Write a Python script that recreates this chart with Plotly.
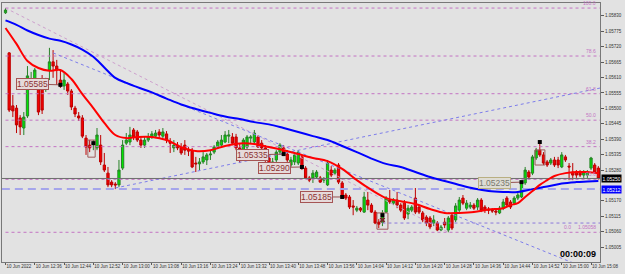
import plotly.graph_objects as go
import pandas as pd

SCALE = 100000.0
bar_times = pd.date_range("2022-06-10 12:28", periods=163, freq="min")
bars = list(range(163))

open_pts = [105841,105698,105509,105501,105466,105430,105473,105584,105584,105573,
105601,105573,105637,105666,105651,105601,105580,105587,105562,105501,
105473,105466,105394,105369,105373,105359,105369,105298,105269,105237,
105230,105227,105287,105376,105380,105423,105416,105387,105369,105387,
105398,105401,105416,105401,105409,105380,105359,105369,105362,105369,
105351,105351,105305,105302,105309,105316,105334,105344,105362,105369,
105380,105401,105398,105398,105359,105351,105362,105394,105380,105398,
105376,105359,105323,105280,105316,105344,105359,105337,105298,105309,
105305,105327,105287,105252,105252,105255,105252,105244,105227,105280,
105269,105298,105234,105191,105184,105152,105137,105144,105130,105173,
105155,105130,105094,105094,105130,105173,105162,105173,105155,105162,
105123,105137,105180,105148,105127,105112,105109,105091,105091,105066,
105094,105066,105119,105102,105137,105180,105144,105148,105155,105148,
105173,105148,105141,105137,105134,105127,105144,105180,105166,105162,
105180,105184,105234,105273,105269,105323,105351,105334,105309,105305,
105316,105316,105291,105327,105294,105273,105273,105273,105262,105262,
105287,105298,105287]
high_pts = [105858,105701,105548,105512,105476,105487,105651,105630,105644,105584,
105619,105609,105716,105708,105673,105637,105626,105594,105569,105509,
105487,105476,105405,105387,105387,105430,105405,105341,105291,105244,
105237,105316,105387,105412,105434,105430,105423,105398,105398,105412,
105419,105423,105426,105430,105419,105394,105387,105380,105376,105387,
105362,105359,105327,105323,105344,105341,105351,105369,105387,105405,
105419,105423,105412,105409,105376,105394,105405,105405,105423,105405,
105387,105369,105334,105323,105351,105376,105369,105351,105327,105344,
105351,105334,105294,105259,105280,105280,105259,105255,105316,105294,
105287,105305,105241,105198,105191,105173,105152,105148,105202,105202,
105162,105137,105105,105137,105187,105209,105180,105202,105162,105173,
105155,105155,105216,105155,105134,105119,105116,105119,105098,105084,
105109,105116,105127,105162,105184,105191,105173,105166,105162,105180,
105180,105155,105148,105144,105144,105152,105177,105187,105173,105187,
105198,105241,105291,105280,105334,105359,105380,105344,105316,105323,
105327,105327,105344,105334,105305,105305,105280,105280,105280,105280,
105327,105305,105294]
low_pts = [105837,105487,105469,105412,105405,105405,105466,105566,105573,105476,
105480,105559,105601,105609,105584,105573,105566,105548,105494,105469,
105455,105394,105334,105344,105351,105351,105298,105273,105219,105219,
105212,105219,105280,105369,105369,105387,105380,105359,105359,105380,
105391,105394,105394,105394,105376,105341,105344,105351,105334,105334,
105330,105287,105273,105280,105302,105298,105316,105337,105355,105366,
105376,105376,105369,105351,105305,105344,105355,105376,105376,105359,
105351,105309,105280,105269,105305,105334,105330,105309,105291,105298,
105298,105280,105248,105237,105234,105248,105234,105234,105223,105255,
105262,105230,105177,105173,105141,105119,105130,105130,105127,105137,
105127,105087,105073,105080,105127,105159,105155,105144,105130,105102,
105105,105130,105123,105123,105094,105080,105069,105080,105062,105062,
105073,105058,105066,105094,105130,105155,105137,105141,105137,105137,
105130,105127,105123,105127,105119,105123,105137,105148,105141,105155,
105173,105180,105227,105248,105262,105316,105327,105298,105291,105298,
105291,105287,105287,105309,105244,105244,105252,105255,105252,105252,
105280,105266,105246]
close_pts = [105851,105494,105491,105441,105434,105469,105616,105601,105637,105487,
105494,105594,105666,105651,105637,105580,105601,105562,105505,105480,
105466,105401,105362,105359,105376,105405,105309,105280,105227,105227,
105227,105280,105369,105387,105405,105398,105387,105369,105387,105398,
105409,105412,105405,105416,105387,105376,105369,105359,105341,105351,
105348,105291,105302,105309,105327,105334,105337,105362,105380,105387,
105405,105405,105376,105359,105351,105387,105398,105398,105412,105362,
105359,105316,105287,105309,105344,105369,105337,105316,105316,105334,
105344,105287,105252,105244,105269,105273,105237,105248,105305,105262,
105280,105237,105184,105180,105148,105148,105144,105137,105184,105155,
105130,105091,105087,105127,105180,105166,105173,105155,105137,105109,
105144,105148,105130,105130,105102,105091,105077,105102,105066,105077,
105084,105109,105073,105152,105173,105162,105162,105155,105144,105173,
105137,105137,105137,105134,105130,105144,105166,105155,105148,105180,
105191,105237,105280,105255,105327,105351,105334,105305,105298,105316,
105298,105298,105334,105316,105291,105262,105262,105262,105273,105273,
105323,105273,105250]

ma_fast_bars = [0,3,6,9,12,15,18,21,24,27,30,33,36,40,44,48,52,56,60,64,68,72,76,80,84,88,
                92,96,100,104,108,112,116,120,124,128,132,136,138,140,142,144,146,148,150,153,156,159,162]
ma_fast_pts = [105787,105730,105669,105644,105634,105637,105605,105551,105501,105448,105405,105394,
               105398,105398,105387,105362,105348,105351,105366,105375,105373,105362,105351,105337,
               105323,105312,105284,105244,105209,105180,105169,105159,105141,105127,105127,105130,
               105139,105144,105155,105162,105184,105205,105227,105244,105259,105269,105273,105273,105269]
ma_slow_bars = [0,3,6,9,12,15,18,21,24,27,30,33,36,40,44,48,52,56,60,64,68,72,76,80,84,88,
                92,96,100,104,108,112,116,120,124,128,132,136,140,144,148,152,156,159,162]
ma_slow_pts = [105814,105798,105778,105762,105749,105741,105728,105710,105684,105646,105609,105591,
               105576,105557,105535,105514,105498,105484,105471,105462,105451,105443,105430,105416,
               105401,105387,105366,105344,105321,105302,105291,105273,105255,105241,105227,105214,
               105205,105202,105202,105212,105221,105232,105237,105239,105241]

y_tick_pts = [105830,105775,105720,105665,105610,105555,105500,105445,105390,105335,105280,
              105170,105115,105060,105005]
x_tick_bars = list(range(0, 163, 8))
x_tick_text = ["10 Jun 2022"] + [t.strftime("10 Jun %H:%M") for t in bar_times[8::8]]

fib_high = 105858
fib_low = 105058
fib_ratios = [1.0, 0.786, 0.618, 0.5, 0.382, 0.236, 0.0]
fib_text = ["100.0", "78.6", "61.8", "50.0", "38.2", "23.6", "0.0"]
fib_anchor_bars = [0, 121]

down_trend_bars = [13, 163]
down_trend_pts = [105698, 104907]
up_trend_bars = [30, 163]
up_trend_pts = [105216, 105574]
stop_line_bars = [103, 163]
stop_line_pts = [105091, 105091]
bid_pts = 105250
hline_pts = 105212

label_bars = [7.4, 67.6, 73.6, 85, 133.6]
label_pts = [105587, 105334, 105289, 105184, 105234]
label_text = ["1.05585", "1.05335", "1.05290", "1.05185", "1.05235"]
mark_bars = [15, 76, 81, 92, 141]
mark_pts = [105584, 105337, 105291, 105184, 105237]
extra_mark_bars = [24, 103, 146]
extra_mark_pts = [105376, 105119, 105380]
box_bar0 = [22.5, 101.5, 144.7]
box_bar1 = [24.5, 104.5, 147.4]
box_lo = [105326, 105069, 105298]
box_hi = [105387, 105127, 105352]
cross_bars = [103]
cross_pts = [105102]

P = lambda v: v / SCALE
BG = "rgb(226,226,226)"
FIBC = "rgb(195,115,195)"
FONT = "Liberation Sans, Arial, sans-serif"

fig = go.Figure()
XR = [-1, 163]
for r in fib_ratios:
    lvl = P(fib_low + r * (fib_high - fib_low))
    fig.add_trace(go.Scatter(x=[0, XR[1]], y=[lvl, lvl], mode="lines",
                             line=dict(color=FIBC, width=1, dash="dot"), hoverinfo="skip"))
fig.add_trace(go.Scatter(x=fib_anchor_bars, y=[P(fib_high), P(fib_low)], mode="lines",
                         line=dict(color="rgb(205,160,205)", width=1, dash="dot"), hoverinfo="skip"))
fig.add_trace(go.Scatter(x=down_trend_bars, y=[P(v) for v in down_trend_pts], mode="lines",
                         line=dict(color="rgb(125,125,235)", width=1, dash="dot"), hoverinfo="skip"))
fig.add_trace(go.Scatter(x=up_trend_bars, y=[P(v) for v in up_trend_pts], mode="lines",
                         line=dict(color="rgb(125,125,235)", width=1, dash="dot"), hoverinfo="skip"))
fig.add_trace(go.Scatter(x=stop_line_bars, y=[P(v) for v in stop_line_pts], mode="lines",
                         line=dict(color="rgb(140,120,220)", width=1, dash="dot"), hoverinfo="skip"))
fig.add_trace(go.Scatter(x=XR, y=[P(bid_pts)] * 2, mode="lines",
                         line=dict(color="rgb(110,110,110)", width=1), hoverinfo="skip"))
fig.add_trace(go.Scatter(x=XR, y=[P(hline_pts)] * 2, mode="lines",
                         line=dict(color="rgb(165,165,235)", width=2, dash="8px,5px"), hoverinfo="skip"))

fig.add_trace(go.Candlestick(
    x=bars, open=[P(v) for v in open_pts], high=[P(v) for v in high_pts],
    low=[P(v) for v in low_pts], close=[P(v) for v in close_pts],
    increasing=dict(line=dict(color="rgb(40,130,40)", width=1), fillcolor="rgb(0,230,0)"),
    decreasing=dict(line=dict(color="rgb(190,0,0)", width=1), fillcolor="rgb(245,0,0)"),
    whiskerwidth=0, hoverinfo="skip"))

fig.add_trace(go.Scatter(x=ma_slow_bars, y=[P(v) for v in ma_slow_pts], mode="lines",
                         line=dict(color="rgb(0,0,255)", width=2, shape="spline"), hoverinfo="skip"))
fig.add_trace(go.Scatter(x=ma_fast_bars, y=[P(v) for v in ma_fast_pts], mode="lines",
                         line=dict(color="rgb(255,0,0)", width=2, shape="spline"), hoverinfo="skip"))

for lb, lp, mb, mp in zip(label_bars, label_pts, mark_bars, mark_pts):
    fig.add_trace(go.Scatter(x=[lb, mb], y=[P(lp), P(mp)], mode="lines",
                             line=dict(color="rgb(150,80,80)", width=1), hoverinfo="skip"))
for b0, b1, lo, hi in zip(box_bar0, box_bar1, box_lo, box_hi):
    fig.add_trace(go.Scatter(x=[b0, b1, b1, b0, b0], y=[P(lo), P(lo), P(hi), P(hi), P(lo)],
                             mode="lines", line=dict(color="rgb(160,90,90)", width=1), hoverinfo="skip"))
fig.add_trace(go.Scatter(x=mark_bars + extra_mark_bars, y=[P(v) for v in mark_pts + extra_mark_pts],
                         mode="markers", marker=dict(symbol="square", size=4, color="black"),
                         hoverinfo="skip"))
fig.add_trace(go.Scatter(x=cross_bars, y=[P(v) for v in cross_pts], mode="markers",
                         marker=dict(symbol="x", size=5, color="rgb(120,40,40)", line=dict(width=0)),
                         hoverinfo="skip"))

ann = []
for lb, lp, t in zip(label_bars, label_pts, label_text):
    khaki = (t == "1.05235")
    ann.append(dict(x=lb, y=P(lp), xref="x", yref="y", text=t, showarrow=False,
                    font=dict(family=FONT, size=8.5,
                              color="rgb(120,120,110)" if khaki else "rgb(140,50,50)"),
                    bgcolor="rgb(222,220,212)" if khaki else "rgb(230,218,218)",
                    bordercolor="rgb(185,175,130)" if khaki else "rgb(165,85,85)",
                    borderwidth=1, borderpad=0))
for r, t in zip(fib_ratios, fib_text):
    lvl = P(fib_low + r * (fib_high - fib_low))
    ann.append(dict(x=1, y=lvl, xref="paper", yref="y", text=t, showarrow=False,
                    xanchor="right", yanchor="bottom", xshift=-27 if t == "0.0" else -2,
                    font=dict(family=FONT, size=5, color=FIBC)))
ann.append(dict(x=1, y=P(fib_low), xref="paper", yref="y", text="1.05058", showarrow=False,
                xanchor="right", yanchor="bottom", xshift=-2, font=dict(family=FONT, size=5, color=FIBC)))
ann.append(dict(x=1, y=P(bid_pts), xref="paper", yref="y", text="1.05250", showarrow=False,
                xanchor="left", xshift=1, bgcolor="black", borderpad=0.5,
                font=dict(family=FONT, size=5, color="white")))
ann.append(dict(x=1, y=P(hline_pts), xref="paper", yref="y", text="1.05212", showarrow=False,
                xanchor="left", xshift=1, bgcolor="rgb(0,0,255)", borderpad=0.5,
                font=dict(family=FONT, size=5, color="white")))
ann.append(dict(x=1, y=0, xref="paper", yref="paper", text="<b>00:00:09</b>", showarrow=False,
                xanchor="right", yanchor="bottom", xshift=-2, yshift=1,
                font=dict(family=FONT, size=9, color="black")))

fig.update_layout(
    width=625, height=274, margin=dict(l=2, r=25, t=3, b=12),
    paper_bgcolor=BG, plot_bgcolor=BG, showlegend=False, annotations=ann,
    boxgap=0.12,
    xaxis=dict(range=[-0.96, 162.45], tickvals=x_tick_bars, ticktext=x_tick_text, tickangle=0,
               ticklabelposition="outside right", tickfont=dict(family=FONT, size=4.5, color="rgb(50,50,50)"),
               ticks="outside", ticklen=2, tickcolor="rgb(90,90,90)", showgrid=False, zeroline=False,
               showline=True, mirror=True, linecolor="rgb(120,120,120)", linewidth=1,
               rangeslider=dict(visible=False), fixedrange=True),
    yaxis=dict(range=[1.04952, 1.05876], side="right", tickvals=[P(v) for v in y_tick_pts],
               ticktext=["%.5f" % P(v) for v in y_tick_pts],
               tickfont=dict(family=FONT, size=4.5, color="rgb(50,50,50)"),
               ticks="outside", ticklen=3, tickcolor="rgb(90,90,90)", showgrid=False, zeroline=False,
               showline=True, mirror=True, linecolor="rgb(120,120,120)", linewidth=1, fixedrange=True),
)
fig.write_html("out.html")
